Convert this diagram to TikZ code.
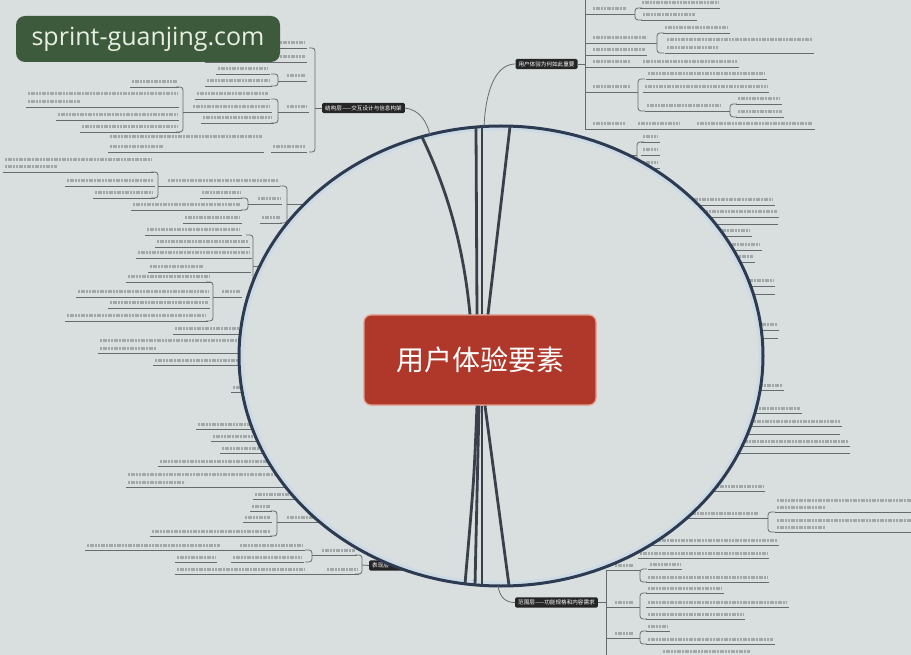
\documentclass[tikz,border=0pt]{standalone}
\usepackage{fontspec}
\newfontfamily\cjk{Noto Sans CJK SC}
\newfontfamily\wmfont{Open Sans}
\definecolor{bgc}{HTML}{D9DFDF}
\definecolor{txtc}{HTML}{A2A7A7}
\definecolor{ulc}{HTML}{666C6D}
\definecolor{ellc}{HTML}{2C3A52}
\definecolor{ringc}{HTML}{CCDAE5}
\definecolor{thickc}{HTML}{3A404A}
\definecolor{cred}{HTML}{B0382A}
\definecolor{cborder}{HTML}{E39A8A}
\definecolor{labc}{HTML}{252525}
\definecolor{wmc}{HTML}{3D5B3C}
\definecolor{wmt}{HTML}{E8EFE2}
\tikzset{
  txt/.style={line width=3pt,color=txtc,dash pattern=on 2pt off 0.7pt},
  ul/.style={line width=0.9pt,color=ulc},
  bl/.style={line width=0.8pt,color=ulc},
  thickline/.style={line width=2.8pt,color=thickc},
  thinc/.style={line width=0.8pt,color=ulc},
  lab/.style={fill=labc,text=white,font=\cjk\fontsize{5.6}{6}\selectfont,rounded corners=1.5pt,inner xsep=3pt,inner ysep=2.6pt},
}
\newcommand\lf[3]{\draw[txt] (#1,#3) -- (#2,#3); \draw[ul] (#1-2,#3+5) -- (#2+2,#3+5);}
\newcommand\lfB[4]{\draw[txt] (#1,#3) -- (#2,#3); \draw[txt] (#1,#4) -- ({#1+0.35*(#2-#1)},#4); \draw[ul] (#1-2,#4+5) -- (#2+2,#4+5);}
\newcommand\ulo[3]{\draw[ul] (#1,#3) -- (#2,#3);}
\newcommand\bro[3]{\draw[bl,rounded corners=3pt] (#1+7,#2) -- (#1,#2) -- (#1,#3) -- (#1+7,#3);}
\newcommand\brc[3]{\draw[bl,rounded corners=3pt] (#1-7,#2) -- (#1,#2) -- (#1,#3) -- (#1-7,#3);}
\begin{document}
\begin{tikzpicture}[x=1pt,y=-1pt]
\fill[bgc] (0,0) rectangle (911,655);
\useasboundingbox (0,0) rectangle (911,655);

% ---------- upper left group ----------
\draw[bl,rounded corners=3pt] (309,48) -- (315,48) -- (315,152) -- (309,152);
\lf{215}{305}{43}
\lf{207}{305}{57}
\lf{287}{305}{76}
\brc{278}{74}{86} \draw[bl] (278,81) -- (285,81);
\lf{218}{268}{69}
\lf{207}{270}{81}
\lf{287}{307}{107}
\brc{278}{99}{123} \draw[bl] (278,112) -- (285,112);
\lf{197}{268}{94}
\lf{193}{270}{107}
\lf{203}{272}{118}
\brc{183}{87}{132} \draw[bl] (183,112) -- (191,112);
\lf{132}{177}{82}
\lfB{28}{177}{94}{102}
\lf{58}{177}{115}
\lf{82}{178}{127}
\lfB{110}{262}{137}{147}
\lf{273}{305}{147}

\lfB{5}{152}{160}{167}
\brc{158}{172}{198} \draw[bl] (158,186) -- (166,186);
\lf{67}{153}{181}
\lf{95}{153}{193}
\lf{168}{278}{181}
\brc{287}{186}{223} \draw[bl] (287,204) -- (320,204);
\lf{258}{280}{199}
\brc{248}{198}{210} \draw[bl] (248,204) -- (256,204);
\lf{202}{240}{193}
\lf{133}{240}{205}
\lf{262}{280}{218}
\lf{185}{240}{218}

\brc{253}{235}{297} \draw[bl] (253,266) -- (280,266);
\lf{147}{240}{230}
\lf{157}{248}{242}
\lf{138}{250}{253}
\lf{150}{203}{267} \draw[ul] (205,272) -- (251,272);
\lf{222}{240}{292}
\brc{213}{282}{321} \draw[bl] (213,297) -- (220,297);
\lf{128}{210}{277}
\lf{78}{208}{292}
\lf{110}{208}{303}
\lf{67}{206}{316}

% ---------- left, near the ellipse ----------
\lf{175}{260}{329}
\lfB{100}{260}{340}{348}
\lf{155}{260}{360}
\lf{233}{260}{387}
\lf{198}{270}{424}
\lf{213}{275}{436}
\lf{222}{280}{448}
\lf{160}{285}{461}
\lfB{128}{290}{474}{482}
\lf{255}{300}{494}
\lf{252}{270}{506}
\lf{245}{270}{517}
\lf{152}{270}{531}
\brc{277}{511}{536} \draw[bl] (277,522) -- (285,522);
\lf{287}{330}{517}

% ---------- lower left ----------
\lf{87}{220}{545} \draw[ul] (222,550) -- (238,550);
\lf{240}{303}{545}
\lf{177}{215}{557}
\lf{233}{302}{557}
\brc{312}{550}{562} \draw[bl] (312,555) -- (320,555);
\lf{322}{355}{550}
\lf{177}{305}{569} \draw[ul] (307,574) -- (325,574);
\lf{327}{357}{569}
\brc{362}{555}{574}
\node[lab,anchor=west] (l4) at (369,565.5) {表现层——感知设计};
\draw[bl] (362,565) -- (l4.west);

% ---------- upper right group ----------
\draw[bl] (585,0) -- (585,129);
\foreach \yy in {14,43,55,67,92} {\draw[bl] (585,\yy) -- (591,\yy);}
\lf{593}{626}{9}
\bro{635}{8}{20} \draw[bl] (628,14) -- (635,14);
\lf{642}{718}{3}
\lf{643}{695}{15}
\lf{593}{647}{38}
\bro{657}{33}{53} \draw[bl] (649,43) -- (657,43);
\lf{665}{728}{28}
\lfB{667}{812}{40}{48}
\lf{593}{645}{50}
\lf{593}{630}{62}
\lf{643}{737}{62} \draw[ul] (632,67) -- (641,67);
\lf{593}{630}{87}
\bro{638}{79}{111} \draw[bl] (632,92) -- (638,92);
\lf{648}{765}{74}
\lf{645}{767}{87}
\lf{647}{720}{106}
\bro{730}{104}{117} \draw[bl] (722,111) -- (730,111);
\lf{738}{780}{99}
\lf{738}{782}{112}
\draw[txt] (593,124) -- (625,124);
\draw[txt] (638,124) -- (680,124);
\draw[txt] (697,124) -- (813,124);
\draw[ul] (585,129) -- (815,129);

% ---------- right, near the ellipse ----------
\bro{637}{142}{168} \draw[bl] (615,155) -- (637,155);
\lf{643}{658}{137}
\lf{643}{658}{150}
\lf{643}{658}{163}
\lf{680}{773}{200}
\lf{690}{777}{212}
\ulo{690}{778}{224}
\lf{700}{750}{231}
\lf{710}{760}{245}
\lf{720}{753}{257}
\lf{735}{773}{281}
\ulo{735}{775}{294}
\lf{740}{777}{325}
\ulo{740}{778}{338}
\lf{745}{782}{385}
\lf{740}{800}{408}
\lf{735}{840}{421}
\ulo{735}{840}{434}
\lf{730}{848}{441}
\ulo{725}{850}{453}
\lf{690}{763}{486}
\lf{670}{758}{513}
\bro{768}{512}{532} \draw[bl] (760,518) -- (768,518);
\lfB{777}{915}{500}{507}
\lfB{777}{915}{520}{527}
\lf{640}{777}{540}
\lf{640}{767}{553}
\lf{615}{633}{565}
\bro{640}{569}{582} \draw[bl] (635,570) -- (640,570);
\lf{650}{680}{564}
\lf{648}{767}{577}
\lf{615}{633}{602}
\bro{640}{593}{619} \draw[bl] (635,607) -- (640,607);
\lf{648}{722}{588}
\lf{648}{787}{602}
\lf{648}{743}{614}
\lf{615}{633}{633}
\bro{640}{631}{644} \draw[bl] (635,638) -- (640,638);
\lf{648}{668}{626}
\lf{648}{773}{639}
\lf{663}{750}{651}
\draw[bl] (606,570) -- (606,656);
\foreach \yy in {570,607,638} {\draw[bl] (606,\yy) -- (613,\yy);}

% ---------- the lens ----------
\fill[bgc] (501,356) ellipse [x radius=262, y radius=230];
\draw[ringc,line width=2.5pt] (501,356) ellipse [x radius=258.8, y radius=226.8];
\draw[ellc,line width=3pt] (501,356) ellipse [x radius=262, y radius=230];

% ---------- central topic ----------
\node[fill=cred,draw=cborder,line width=1.2pt,rounded corners=7pt,minimum width=232pt,minimum height=90pt,text=white,font=\cjk\fontsize{28}{28}\selectfont] (c) at (480,360) {用户体验要素};

\coordinate (t1) at (422,137);
\coordinate (t2) at (476,127);
\coordinate (t3) at (482,126.5);
\coordinate (t4) at (510,126.5);
\coordinate (b1) at (465,584);
\coordinate (b2) at (475,585.5);
\coordinate (b3) at (482,586);
\coordinate (b4) at (509,585.5);
\draw[thickline] ([xshift=-10pt]c.north) .. controls (462,230) and (440,175) .. (t1);
\draw[thickline] ([xshift=-3pt]c.north) -- (t2);
\draw[thickline] ([xshift=2pt]c.north) -- (t3);
\draw[thickline] ([xshift=8pt]c.north) -- (t4);
\draw[thickline] ([xshift=-3pt]c.south) .. controls (474,480) .. (b1);
\draw[thickline] ([xshift=-1pt]c.south) -- (b2);
\draw[thickline] ([xshift=2pt]c.south) -- (b3);
\draw[thickline] ([xshift=5pt]c.south) -- (b4);

% ---------- main branch labels ----------
\node[lab] (l1) at (363.5,108) {结构层——交互设计与信息构架};
\node[lab] (l2) at (546.5,64) {用户体验为何如此重要};
\node[lab] (l3) at (556.5,602.5) {范围层——功能规格和内容需求};
\draw[bl] (315,108) -- (l1.west);
\draw[bl] (l2.east) -- (585,64);
\draw[bl] (l3.east) -- (606,602.5);
\coordinate (e1) at (430,135);
\coordinate (e2) at (484,126.5);
\coordinate (e3) at (498,586);
\draw[thinc] (l1.east) .. controls (420,110) and (427,122) .. (e1);
\draw[thinc] (e2) .. controls (486,85) and (498,64) .. (l2.west);
\draw[thinc] (e3) .. controls (500,598) and (506,602.5) .. (l3.west);

% ---------- watermark ----------
\node[fill=wmc,rounded corners=9pt,minimum width=264pt,minimum height=46pt,text=wmt,font=\wmfont\fontsize{25}{25}\selectfont] (wm) at (148,39) {sprint-guanjing.com};
\end{tikzpicture}
\end{document}
